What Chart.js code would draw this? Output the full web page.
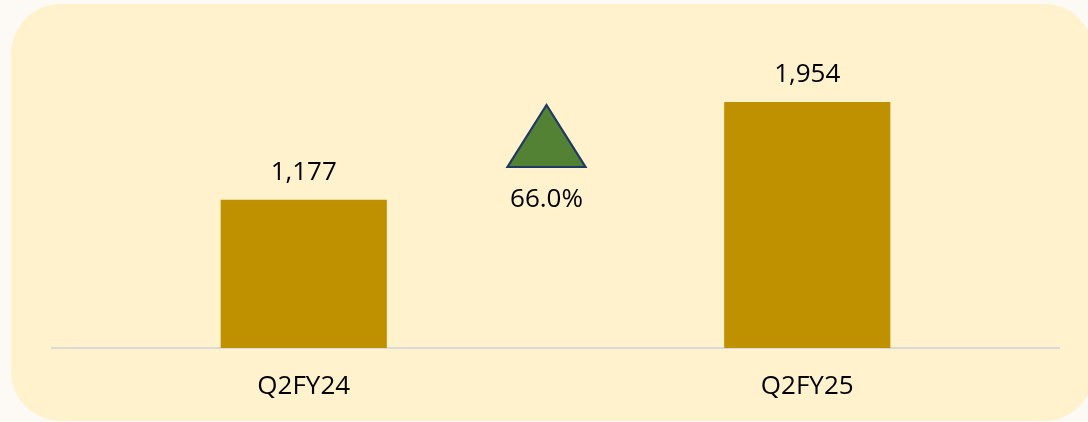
<!DOCTYPE html>
<html>
<head>
<meta charset="utf-8">
<script src="https://cdn.jsdelivr.net/npm/chart.js@4/dist/chart.umd.min.js"></script>
<style>
  html, body { margin: 0; padding: 0; background: #FDF9F4; }
  #wrap { position: relative; width: 1088px; height: 422px; overflow: hidden; }
  #panel { position: absolute; left: 11px; top: 4px; width: 1083px; height: 417px; background: #FFF2CC; border-radius: 50px; }
  #c { position: absolute; left: 0; top: 0; }
</style>
</head>
<body>
<div id="wrap">
  <div id="panel"></div>
  <canvas id="c" width="1088" height="422"></canvas>
</div>
<script>
const categories = ["Q2FY24", "Q2FY25"];
const values = [1177, 1954];
const growthLabel = "66.0%";

const FONT = "'Open Sans', 'Liberation Sans', sans-serif";

const annotPlugin = {
  id: 'annot',
  afterDatasetsDraw(chart) {
    const ctx = chart.ctx;
    const meta = chart.getDatasetMeta(0);
    ctx.save();
    ctx.fillStyle = '#000000';
    ctx.font = '26px ' + FONT;
    ctx.textAlign = 'center';
    ctx.textBaseline = 'alphabetic';
    meta.data.forEach((bar, i) => {
      ctx.fillText(values[i].toLocaleString('en-US'), bar.x, bar.y - 20);
    });
    // growth triangle between bars
    const xs = chart.scales.x;
    const cx = (xs.getPixelForValue(0) + xs.getPixelForValue(1)) / 2 - 9;
    const top = chart.chartArea.top;
    ctx.beginPath();
    ctx.moveTo(cx, top + 85);
    ctx.lineTo(cx + 39, top + 147);
    ctx.lineTo(cx - 39, top + 147);
    ctx.closePath();
    ctx.fillStyle = '#548235';
    ctx.fill();
    ctx.lineWidth = 2.2;
    ctx.strokeStyle = '#1F3864';
    ctx.lineJoin = 'miter';
    ctx.stroke();
    ctx.fillStyle = '#000000';
    ctx.fillText(growthLabel, cx, top + 187);
    ctx.restore();
  }
};

new Chart(document.getElementById('c'), {
  type: 'bar',
  data: {
    labels: categories,
    datasets: [{
      data: values,
      backgroundColor: '#BF9000',
      borderWidth: 0,
      barPercentage: 0.33,
      categoryPercentage: 1.0
    }]
  },
  options: {
    responsive: false,
    animation: false,
    events: [],
    layout: { padding: { left: 52, right: 29, top: 20, bottom: 0 } },
    plugins: { legend: { display: false }, tooltip: { enabled: false } },
    scales: {
      x: {
        grid: { display: false, drawTicks: false },
        border: { display: true, color: '#D9D9D9', width: 2 },
        ticks: { color: '#000000', font: { size: 26, family: FONT }, padding: 23 },
        afterFit(scale) { scale.height = 74; }
      },
      y: {
        display: false,
        min: 0,
        max: 2605
      }
    }
  },
  plugins: [annotPlugin]
});
</script>
</body>
</html>
